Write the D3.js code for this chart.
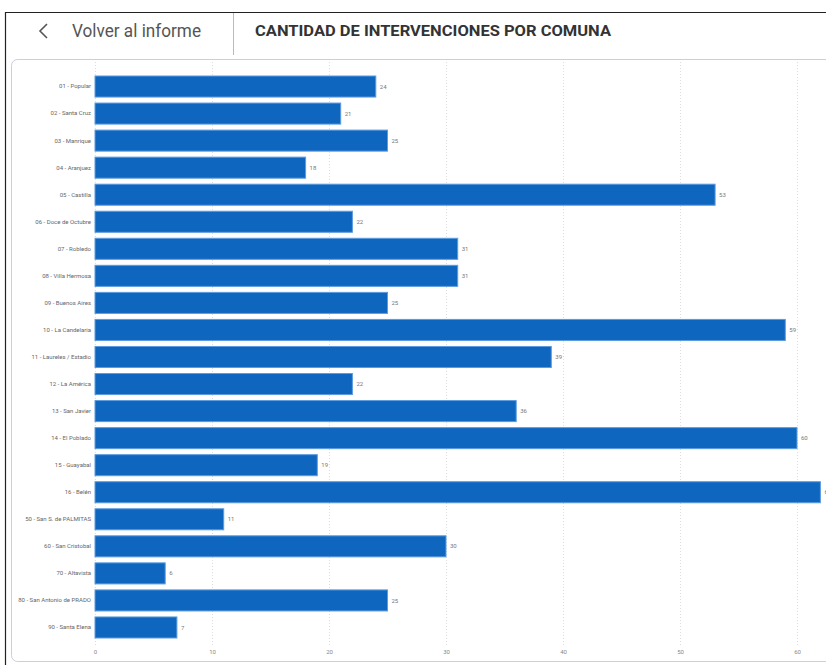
<!DOCTYPE html>
<html><head><meta charset="utf-8">
<script src="https://cdn.jsdelivr.net/npm/d3@7"></script>
<style>html,body{margin:0;padding:0;background:#fff;overflow:hidden}</style>
</head><body>
<svg id="c" width="826" height="665"></svg>
<script>
const categories = ["01 - Popular","02 - Santa Cruz","03 - Manrique","04 - Aranjuez","05 - Castilla","06 - Doce de Octubre","07 - Robledo","08 - Villa Hermosa","09 - Buenos Aires","10 - La Candelaria","11 - Laureles / Estadio","12 - La América","13 - San Javier","14 - El Poblado","15 - Guayabal","16 - Belén","50 - San S. de PALMITAS","60 - San Cristobal","70 - Altavista","80 - San Antonio de PRADO","90 - Santa Elena"];
const values = [24,21,25,18,53,22,31,31,25,59,39,22,36,60,19,62,11,30,6,25,7];
const ticks = [0,10,20,30,40,50,60];
const titleText = "CANTIDAD DE INTERVENCIONES POR COMUNA";
const backText = "Volver al informe";

const svg = d3.select("#c");
// frame
svg.append("line").attr("x1",5.5).attr("x2",5.5).attr("y1",12).attr("y2",665).attr("stroke","#222").attr("stroke-width",1.2);
svg.append("line").attr("x1",5).attr("x2",826).attr("y1",12.5).attr("y2",12.5).attr("stroke","#222").attr("stroke-width",1.2);
// header
svg.append("path").attr("d","M47,24 L40,31 L47,38").attr("fill","none").attr("stroke","#555").attr("stroke-width",1.6);
svg.append("text").attr("x",72).attr("y",37).attr("font-family","Roboto, sans-serif").attr("font-size",18).attr("fill","#555").attr("textLength",129).attr("lengthAdjust","spacingAndGlyphs").text(backText);
svg.append("line").attr("x1",233.5).attr("x2",233.5).attr("y1",13).attr("y2",55).attr("stroke","#bbb");
svg.append("text").attr("x",255).attr("y",36).attr("font-family","Roboto, sans-serif").attr("font-weight",700).attr("font-size",15).attr("fill","#333").attr("textLength",356).attr("lengthAdjust","spacingAndGlyphs").text(titleText);
// card
svg.append("rect").attr("x",11.5).attr("y",59.5).attr("width",840).attr("height",602).attr("rx",6).attr("fill","#fff").attr("stroke","#cfcdd9");

const x = d3.scaleLinear().domain([0,60]).range([95,797]);
const y = d3.scaleBand().domain(categories).range([73,641]).paddingInner(0.222).paddingOuter(0.111);

const g = svg.append("g");
// gridlines
g.selectAll(".grid").data(ticks).join("line")
  .attr("x1",d=>Math.round(x(d))+0.5).attr("x2",d=>Math.round(x(d))+0.5)
  .attr("y1",62).attr("y2",645).attr("stroke","#ddd").attr("stroke-dasharray","1,2");
// x axis labels
const xa = d3.axisBottom(x).tickValues(ticks).tickSize(0).tickPadding(0);
const xg = svg.append("g").attr("transform","translate(0,650)").call(xa);
xg.select(".domain").remove();
xg.selectAll("text").attr("font-family","Roboto, sans-serif").attr("font-size",6).attr("fill","#888");
// bars
g.selectAll(".bar").data(values).join("rect")
  .attr("x",x(0)).attr("y",(d,i)=>y(categories[i]))
  .attr("width",d=>x(d)-x(0)).attr("height",y.bandwidth())
  .attr("fill","#0f66bf").attr("stroke","#5c9be0").attr("stroke-width",1);
// y axis labels
const ya = d3.axisLeft(y).tickSize(0).tickPadding(4);
const yg = svg.append("g").attr("transform","translate(95,0)").call(ya);
yg.select(".domain").remove();
yg.selectAll("text").attr("font-family","Roboto, sans-serif").attr("font-size",6).attr("fill","#666");
// value labels
g.selectAll(".val").data(values).join("text")
  .attr("x",d=>x(d)+4).attr("y",(d,i)=>y(categories[i])+y.bandwidth()/2)
  .attr("dy","0.35em").attr("font-family","Roboto, sans-serif").attr("font-size",6).attr("fill","#777")
  .text(d=>d);
</script>
</body></html>
